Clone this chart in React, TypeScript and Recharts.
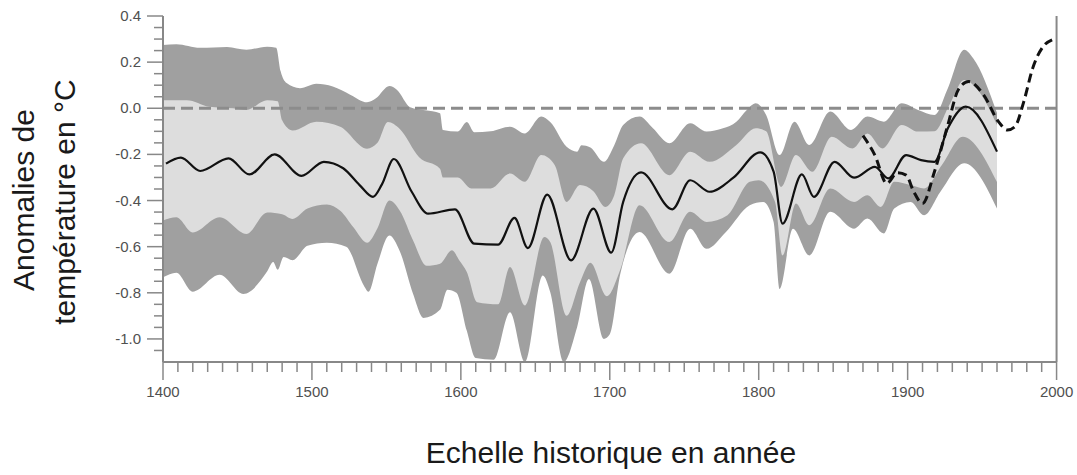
import React from 'react';
import { ComposedChart, Area, Line, XAxis, YAxis, ReferenceLine } from 'recharts';

// reconstruction (solid line) and its two uncertainty envelopes, 1400-1960
const centreYears = [1402, 1412, 1425, 1444, 1458, 1475, 1493, 1508, 1521, 1532, 1541, 1547, 1555, 1567, 1578, 1596, 1609, 1625, 1636, 1645, 1658, 1674, 1689, 1701, 1709, 1721, 1742, 1754, 1767, 1783, 1801, 1810, 1816, 1829, 1837, 1851, 1864, 1878, 1887, 1899, 1909, 1918, 1927, 1939, 1960];
const centreValues = [-0.24, -0.214, -0.272, -0.217, -0.287, -0.2, -0.293, -0.232, -0.26, -0.333, -0.384, -0.33, -0.22, -0.362, -0.457, -0.438, -0.587, -0.591, -0.475, -0.606, -0.374, -0.659, -0.435, -0.626, -0.406, -0.278, -0.438, -0.312, -0.362, -0.301, -0.191, -0.275, -0.5, -0.287, -0.384, -0.232, -0.301, -0.254, -0.304, -0.203, -0.225, -0.232, -0.087, 0.007, -0.188];

// instrumental record (dashed line)
const instrYears = [1870, 1878, 1886, 1893, 1899, 1904, 1910, 1918, 1927, 1934, 1941, 1951, 1961, 1967, 1972, 1978, 1984, 1991, 1997];
const instrValues = [-0.119, -0.203, -0.326, -0.28, -0.29, -0.36, -0.413, -0.275, -0.072, 0.08, 0.116, 0.058, -0.058, -0.094, -0.08, 0.029, 0.174, 0.268, 0.297];

// outer envelope, upper edge (dark grey)
const outerHiYears = [1400, 1409, 1425, 1443, 1456, 1470, 1476, 1479, 1483, 1492, 1503, 1514, 1526, 1537, 1543, 1552, 1557, 1566, 1586, 1588, 1598, 1604, 1609, 1620, 1633, 1643, 1654, 1660, 1671, 1678, 1681, 1687, 1696, 1703, 1709, 1720, 1729, 1740, 1754, 1765, 1776, 1785, 1792, 1798, 1805, 1814, 1824, 1834, 1848, 1862, 1873, 1884, 1896, 1907, 1918, 1927, 1938, 1944, 1960];
const outerHiValues = [0.274, 0.278, 0.262, 0.266, 0.254, 0.267, 0.262, 0.16, 0.109, 0.087, 0.106, 0.094, 0.058, 0.026, 0.043, 0.096, 0.08, 0.004, -0.022, -0.094, -0.101, -0.06, -0.104, -0.1, -0.08, -0.109, -0.036, -0.06, -0.167, -0.188, -0.16, -0.17, -0.232, -0.16, -0.072, -0.036, -0.087, -0.152, -0.065, -0.101, -0.087, -0.058, -0.007, 0.022, -0.029, -0.203, -0.058, -0.159, -0.014, -0.094, -0.036, -0.058, 0.022, -0.007, -0.029, 0.087, 0.254, 0.217, -0.02];

// inner envelope, upper edge (light grey)
const innerHiYears = [1400, 1416, 1431, 1447, 1456, 1470, 1477, 1480, 1487, 1503, 1519, 1537, 1544, 1551, 1559, 1572, 1586, 1588, 1598, 1607, 1620, 1633, 1643, 1654, 1663, 1671, 1680, 1689, 1697, 1703, 1709, 1721, 1740, 1754, 1767, 1785, 1798, 1805, 1815, 1825, 1836, 1849, 1863, 1873, 1883, 1896, 1907, 1918, 1928, 1938, 1947, 1960];
const innerHiValues = [0.035, 0.035, 0.007, 0.0, -0.007, 0.035, 0.03, -0.052, -0.096, -0.058, -0.08, -0.175, -0.15, -0.06, -0.09, -0.212, -0.262, -0.3, -0.3, -0.348, -0.348, -0.283, -0.319, -0.203, -0.246, -0.406, -0.333, -0.36, -0.428, -0.377, -0.217, -0.152, -0.29, -0.188, -0.232, -0.159, -0.087, -0.1, -0.341, -0.203, -0.275, -0.123, -0.174, -0.109, -0.174, -0.072, -0.101, -0.1, 0.014, 0.123, 0.08, -0.072];

// inner envelope, lower edge
const innerLoYears = [1400, 1409, 1420, 1438, 1456, 1470, 1480, 1487, 1497, 1510, 1519, 1528, 1537, 1544, 1552, 1559, 1568, 1577, 1586, 1594, 1599, 1604, 1611, 1625, 1633, 1643, 1656, 1660, 1671, 1680, 1687, 1698, 1707, 1720, 1740, 1754, 1765, 1779, 1794, 1800, 1811, 1816, 1825, 1834, 1848, 1864, 1873, 1882, 1891, 1902, 1911, 1923, 1937, 1960];
const innerLoValues = [-0.487, -0.473, -0.539, -0.473, -0.545, -0.452, -0.46, -0.48, -0.435, -0.417, -0.444, -0.517, -0.583, -0.52, -0.4, -0.444, -0.574, -0.683, -0.674, -0.616, -0.66, -0.71, -0.841, -0.85, -0.688, -0.855, -0.558, -0.58, -0.899, -0.754, -0.67, -0.815, -0.7, -0.42, -0.58, -0.449, -0.493, -0.464, -0.319, -0.312, -0.406, -0.638, -0.413, -0.507, -0.348, -0.406, -0.377, -0.428, -0.319, -0.333, -0.348, -0.246, -0.123, -0.32];

// outer envelope, lower edge
const outerLoYears = [1400, 1409, 1420, 1438, 1454, 1470, 1474, 1477, 1481, 1487, 1497, 1510, 1523, 1535, 1538, 1544, 1552, 1559, 1568, 1575, 1586, 1591, 1597, 1604, 1610, 1622, 1633, 1643, 1655, 1660, 1669, 1678, 1686, 1696, 1700, 1707, 1720, 1740, 1754, 1765, 1778, 1794, 1803, 1810, 1814, 1823, 1834, 1848, 1864, 1873, 1884, 1891, 1902, 1911, 1922, 1938, 1960];
const outerLoValues = [-0.733, -0.713, -0.795, -0.722, -0.805, -0.707, -0.667, -0.7, -0.645, -0.659, -0.596, -0.583, -0.6, -0.77, -0.795, -0.674, -0.552, -0.62, -0.806, -0.909, -0.874, -0.787, -0.8, -0.965, -1.083, -1.09, -0.884, -1.1, -0.725, -0.797, -1.1, -0.95, -0.74, -1.0, -0.98, -0.72, -0.536, -0.717, -0.522, -0.609, -0.536, -0.42, -0.406, -0.493, -0.783, -0.522, -0.638, -0.449, -0.522, -0.478, -0.543, -0.435, -0.406, -0.464, -0.362, -0.238, -0.435];

const xTicks = Array.from({ length: 61 }, (_, i) => 1400 + i * 10);
const yTicks = Array.from({ length: 30 }, (_, i) => (40 - 5 * i) / 100);

const toPoints = (years: number[], values: number[]) => years.map((year, i) => ({ year, v: values[i] }));

const DARK = '#a0a0a0';
const LIGHT = '#dddddd';
const AXIS = '#888888';
const LABEL = '#505050';
const FONT = '"Liberation Sans", Arial, Helvetica, sans-serif';

const isMajorY = (v: number) => Math.round(v * 100) % 20 === 0;

function XTick(props: any) {
  const { x, y, payload } = props;
  const major = payload.value % 100 === 0;
  return (
    <g>
      <line x1={x} x2={x} y1={y} y2={y + (major ? 18 : 10)} stroke={AXIS} strokeWidth={1.5} />
      {major && (
        <text x={x} y={y + 35} textAnchor="middle" fill={LABEL} fontSize={15} fontFamily={FONT}>
          {payload.value}
        </text>
      )}
    </g>
  );
}

function YTickLeft(props: any) {
  const { x, y, payload } = props;
  const major = isMajorY(payload.value);
  return (
    <g>
      <line x1={x - (major ? 16 : 9)} x2={x} y1={y} y2={y} stroke={AXIS} strokeWidth={1.5} />
      {major && (
        <text x={x - 22} y={y + 5} textAnchor="end" fill={LABEL} fontSize={15} fontFamily={FONT}>
          {payload.value.toFixed(1)}
        </text>
      )}
    </g>
  );
}

function YTickRight(props: any) {
  const { x, y, payload } = props;
  const major = isMajorY(payload.value);
  return <line x1={x} x2={x + (major ? 16 : 9)} y1={y} y2={y} stroke={AXIS} strokeWidth={1.5} />;
}

export default function App() {
  return (
    <div style={{ position: 'absolute', left: 0, top: 0, width: 1077, height: 475, background: '#fff' }}>
      {/* right margin chosen so the band ends (1960) fall on a whole pixel */}
      <ComposedChart width={1077} height={475} margin={{ top: 16, right: 0.43, bottom: 0, left: 0 }}>
        <XAxis
          xAxisId="b"
          dataKey="year"
          type="number"
          domain={[1400, 2000]}
          ticks={xTicks}
          interval={0}
          height={113}
          tickSize={0}
          tickMargin={0}
          tickLine={false}
          axisLine={{ stroke: AXIS, strokeWidth: 2 }}
          tick={XTick}
        />
        <XAxis xAxisId="t" orientation="top" type="number" domain={[1400, 2000]} height={0} tick={false} tickLine={false} axisLine={{ stroke: '#999', strokeWidth: 3 }} />
        <YAxis
          yAxisId="l"
          type="number"
          domain={[-1.1, 0.4]}
          ticks={yTicks}
          interval={0}
          width={163}
          tickSize={0}
          tickMargin={0}
          tickLine={false}
          axisLine={{ stroke: AXIS, strokeWidth: 2 }}
          tick={YTickLeft}
        />
        <YAxis
          yAxisId="r"
          orientation="right"
          type="number"
          domain={[-1.1, 0.4]}
          ticks={yTicks}
          interval={0}
          width={20}
          tickSize={0}
          tickMargin={0}
          tickLine={false}
          axisLine={{ stroke: AXIS, strokeWidth: 2 }}
          tick={YTickRight}
        />
        <Area xAxisId="b" yAxisId="l" data={toPoints(outerHiYears, outerHiValues)} dataKey="v" type="monotone" baseValue={-1.1} fill={DARK} fillOpacity={1} stroke="none" dot={false} activeDot={false} isAnimationActive={false} />
        <Area xAxisId="b" yAxisId="l" data={toPoints(innerHiYears, innerHiValues)} dataKey="v" type="monotone" baseValue={-1.1} fill={LIGHT} fillOpacity={1} stroke="none" dot={false} activeDot={false} isAnimationActive={false} />
        <Area xAxisId="b" yAxisId="l" data={toPoints(innerLoYears, innerLoValues)} dataKey="v" type="monotone" baseValue={-1.1} fill={DARK} fillOpacity={1} stroke="none" dot={false} activeDot={false} isAnimationActive={false} />
        <Area xAxisId="b" yAxisId="l" data={toPoints(outerLoYears, outerLoValues)} dataKey="v" type="monotone" baseValue={-1.1} fill="#ffffff" fillOpacity={1} stroke="none" dot={false} activeDot={false} isAnimationActive={false} />
        <ReferenceLine xAxisId="b" yAxisId="l" y={0} stroke="#8c8c8c" strokeWidth={3} strokeDasharray="12 6" />
        <Line xAxisId="b" yAxisId="l" data={toPoints(centreYears, centreValues)} dataKey="v" type="monotone" stroke="#111" strokeWidth={2.2} dot={false} activeDot={false} isAnimationActive={false} />
        <Line xAxisId="b" yAxisId="l" data={toPoints(instrYears, instrValues)} dataKey="v" type="monotone" stroke="#111" strokeWidth={3} strokeDasharray="9 5" dot={false} activeDot={false} isAnimationActive={false} />
      </ComposedChart>
      <svg width={1077} height={475} style={{ position: 'absolute', left: 0, top: 0, pointerEvents: 'none' }}>
        <g fontFamily={FONT} fontSize={30} fill="#1a1a1a" textAnchor="middle">
          <text transform="translate(34,200) rotate(-90)">Anomalies de</text>
          <text transform="translate(75,202) rotate(-90)">température en °C</text>
          <text x={611} y={463}>Echelle historique en année</text>
        </g>
      </svg>
    </div>
  );
}
